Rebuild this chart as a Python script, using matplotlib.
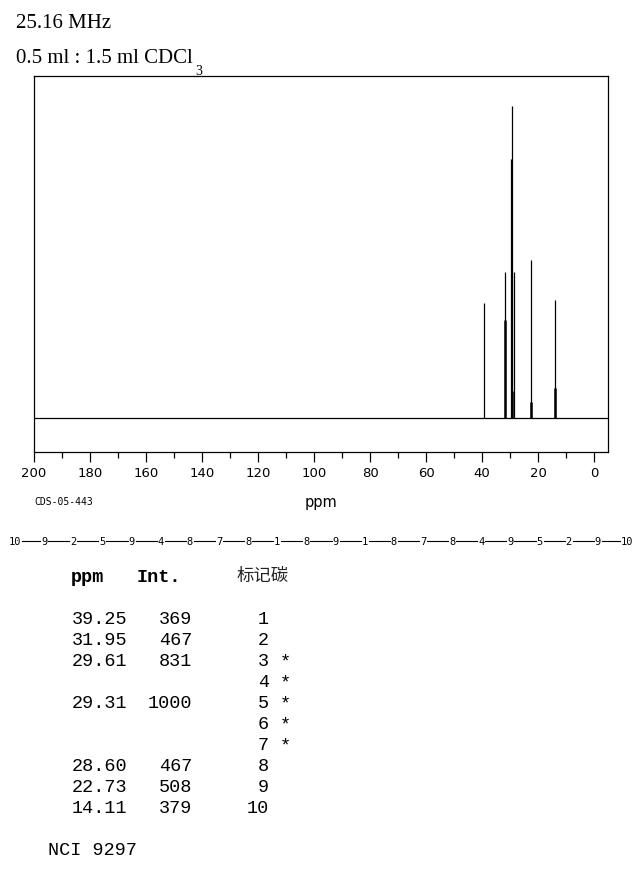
import numpy as np
import matplotlib
matplotlib.use("Agg")
import matplotlib.pyplot as plt
from matplotlib.lines import Line2D

# peak list (ppm, relative intensity)
peak_ppm = [39.25, 31.95, 29.61, 29.31, 28.60, 22.73, 14.11]
peak_int = [369, 467, 831, 1000, 467, 508, 379]
# lower, broader part at the foot of some peaks
foot_ppm = [31.95, 29.45, 22.73, 14.11]
foot_int = [316, 88, 51, 97]

# assignment table
carbon_no = ["1", "2", "3", "4", "5", "6", "7", "8", "9", "10"]
table_ppm = ["39.25", "31.95", "29.61", "", "29.31", "", "", "28.60", "22.73", "14.11"]
table_int = ["369", "467", "831", "", "1000", "", "", "467", "508", "379"]
table_star = ["", "", "*", "*", "*", "*", "*", "", "", ""]

chain = ["10", "9", "2", "5", "9", "4", "8", "7", "8", "1", "8",
         "9", "1", "8", "7", "8", "4", "9", "5", "2", "9", "10"]

x_ticks = [200, 180, 160, 140, 120, 100, 80, 60, 40, 20, 0]

W, H = 638, 879


def fx(x):
    return x / W


def fy(y):
    return 1 - y / H


fig = plt.figure(figsize=(W / 100, H / 100), dpi=100)
ax = fig.add_axes([fx(34), fy(452.7), fx(608.3) - fx(34), fy(77.3) - fy(452.7)])

# baseline and peaks
ax.axhline(0, color="black", lw=0.9)
ax.vlines(peak_ppm, 0, peak_int, color="black", lw=0.9)
ax.vlines(foot_ppm, 0, foot_int, color="black", lw=1.8)

ax.set_xlim(200, -5)
ax.set_ylim(-107, 1095)
ax.set_yticks([])
ax.set_xticks(x_ticks)
ax.set_xticks(np.arange(190, 0, -20), minor=True)
ax.tick_params(axis="x", which="major", direction="out", length=7, width=0.9,
               labelsize=9.5, pad=3)
ax.tick_params(axis="x", which="minor", direction="out", length=4, width=0.9)
for s in ax.spines.values():
    s.set_linewidth(0.9)

fig.text(fx(321), fy(503), "ppm", ha="center", va="center", fontsize=10.5,
         family="DejaVu Sans")
fig.text(fx(34), fy(502.5), "CDS-05-443", ha="left", va="center", fontsize=7,
         family="DejaVu Sans Mono")

# header lines
fig.text(fx(16), fy(27.5), "25.16 MHz", ha="left", va="baseline", fontsize=15,
         family="Liberation Serif")
fig.text(fx(16), fy(62.7), "0.5 ml : 1.5 ml CDCl", ha="left", va="baseline",
         fontsize=15, family="Liberation Serif")
fig.text(fx(195), fy(75), "3", ha="left", va="baseline", fontsize=10,
         family="Liberation Serif")

# carbon chain
cx = np.linspace(15, 627, len(chain))
cy = 541.7
for i, c in enumerate(chain):
    fig.text(fx(cx[i]), fy(cy), c, ha="center", va="center", fontsize=7.5,
             family="DejaVu Sans Mono")
    if i < len(chain) - 1:
        half_a = 7 if len(c) == 2 else 4
        half_b = 7 if len(chain[i + 1]) == 2 else 4
        fig.add_artist(Line2D([fx(cx[i] + half_a), fx(cx[i + 1] - half_b)],
                              [fy(cy), fy(cy)], color="black", lw=0.8))

# table
mono = "Liberation Mono"
fig.text(fx(71), fy(581.7), "ppm", ha="left", va="baseline", fontsize=13.3,
         family=mono, fontweight="bold")
fig.text(fx(137), fy(581.7), "Int.", ha="left", va="baseline", fontsize=13.3,
         family=mono, fontweight="bold")
fig.text(fx(237), fy(580.5), "标记碳", ha="left", va="baseline", fontsize=12.5,
         family=["Noto Sans CJK SC", "DejaVu Sans"], color="#222222")

for i in range(len(carbon_no)):
    yb = fy(624.3 + 20.95 * i)
    fig.text(fx(127), yb, table_ppm[i], ha="right", va="baseline",
             fontsize=13.3, family=mono)
    fig.text(fx(192), yb, table_int[i], ha="right", va="baseline",
             fontsize=13.3, family=mono)
    fig.text(fx(269), yb, carbon_no[i], ha="right", va="baseline",
             fontsize=13.3, family=mono)
    if table_star[i]:
        fig.text(fx(285), yb, table_star[i], ha="center", va="baseline",
                 fontsize=13.3, family=mono)

fig.text(fx(48), fy(855), "NCI 9297", ha="left", va="baseline", fontsize=13.3,
         family=mono)

fig.savefig("out.png", dpi=100)
